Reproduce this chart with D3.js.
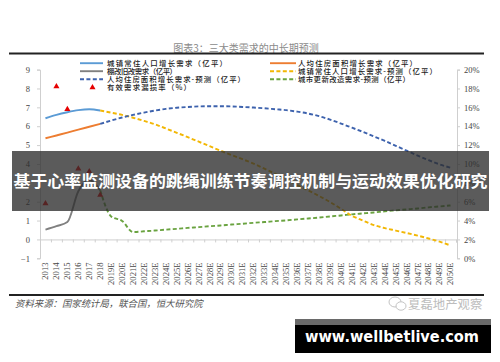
<!DOCTYPE html>
<html>
<head>
<meta charset="utf-8">
<script src="https://d3js.org/d3.v7.min.js"></script>
<style>
  body { margin: 0; background: #fff; }
  svg { display: block; }
</style>
</head>
<body>
<script>
// categories
var years = ['2013','2014','2015','2016','2017','2018','2019E','2020E','2021E','2022E',
  '2023E','2024E','2025E','2026E','2027E','2028E','2029E','2030E','2031E','2032E',
  '2033E','2034E','2035E','2036E','2037E','2038E','2039E','2040E','2041E','2042E',
  '2043E','2044E','2045E','2046E','2047E','2048E','2049E','2050E'];

// history 2013-2018 (亿平)
var urbanPopHist = [6.42, 6.6, 6.74, 6.85, 6.9, 6.83];
var perCapitaHist = [5.36, 5.51, 5.66, 5.82, 5.97, 6.12];
var shantyHist = [0.52, 0.7, 0.92, 2.55, 3.15, 2.6];
// forecast 2018-2050 (亿平)
var perCapitaFcst = [6.12, 6.3, 6.46, 6.6, 6.72, 6.83, 6.92, 6.98, 7.02, 7.05,
  7.06, 7.06, 7.05, 7.02, 6.99, 6.95, 6.9, 6.85, 6.77, 6.67,
  6.53, 6.35, 6.14, 5.92, 5.7, 5.46, 5.22, 4.96, 4.7, 4.44,
  4.2, 3.98, 3.8];
var urbanPopFcst = [6.83, 6.72, 6.6, 6.45, 6.28, 6.1, 5.88, 5.65, 5.42, 5.18,
  4.94, 4.7, 4.47, 4.25, 4.02, 3.75, 3.47, 3.18, 2.88, 2.6,
  2.3, 1.98, 1.62, 1.25, 1.0, 0.76, 0.6, 0.47, 0.34, 0.2,
  0.05, -0.12, -0.32];
var renewalFcst = [2.6, 1.22, 0.98, 0.39, 0.43, 0.47, 0.52, 0.56, 0.61, 0.65,
  0.7, 0.74, 0.79, 0.83, 0.88, 0.92, 0.97, 1.01, 1.06, 1.11,
  1.16, 1.22, 1.27, 1.33, 1.38, 1.43, 1.49, 1.54, 1.59, 1.64,
  1.7, 1.75, 1.8];
// 有效需求漏损率 (%), 2013-2018, right axis
var leakRate = [5.8, 18.2, 15.8, 9.5, 9.2, 6.7];

var leftTicks = [-1, 0, 1, 2, 3, 4, 5, 6, 7, 8, 9];
var rightTicks = [0, 2, 4, 6, 8, 10, 12, 14, 16, 18, 20];

var W = 500, H = 362;
var plot = {left: 40, right: 456, top: 69.6, bottom: 258.3};

var svg = d3.select("body").append("svg")
    .attr("width", W).attr("height", H);

var x = d3.scaleBand().domain(years).range([plot.left, plot.right]).padding(0);
var xc = function(d) { return x(d) + x.bandwidth() / 2; };
var yL = d3.scaleLinear().domain([-1, 9]).range([plot.bottom, plot.top]);
var yR = d3.scaleLinear().domain([0, 20]).range([plot.bottom, plot.top]);

var serif = "'Liberation Serif', 'DejaVu Serif', serif";
var cjk = "'Noto Sans CJK SC', sans-serif";

// title + rules
svg.append("text")
    .attr("x", 246).attr("y", 51.5)
    .attr("text-anchor", "middle")
    .style("font-family", cjk).style("font-size", "10px").style("fill", "#8a8a8a")
    .text("图表3：三大类需求的中长期预测");
svg.append("line").attr("x1", 9).attr("x2", 484).attr("y1", 53.5).attr("y2", 53.5)
    .attr("stroke", "#222").attr("stroke-width", 1.8);
svg.append("line").attr("x1", 9).attr("x2", 484).attr("y1", 295).attr("y2", 295)
    .attr("stroke", "#222").attr("stroke-width", 1.8);

// left axis
var gL = svg.append("g")
    .attr("transform", "translate(" + plot.left + ",0)")
    .call(d3.axisLeft(yL).tickValues(leftTicks).tickSize(3).tickPadding(7)
      .tickFormat(function(d) { return d < 0 ? "\u22121" : d; }));
// right axis
var gR = svg.append("g")
    .attr("transform", "translate(" + (plot.right + 1) + ",0)")
    .call(d3.axisRight(yR).tickValues(rightTicks).tickSize(3).tickPadding(4)
      .tickFormat(function(d) { return d + "%"; }));
[gL, gR].forEach(function(g) {
  g.select(".domain").attr("stroke", "#cfcfcf");
  g.selectAll(".tick line").attr("stroke", "#cfcfcf");
  g.selectAll(".tick text").style("font-family", serif).style("font-size", "8.5px").style("fill", "#444");
});

// x axis at zero with boundary ticks
var xEdge = d3.scaleLinear().domain([0, years.length]).range([plot.left, plot.right]);
var gX = svg.append("g")
    .attr("transform", "translate(0," + yL(0) + ")")
    .call(d3.axisBottom(xEdge).tickValues(d3.range(years.length + 1)).tickSize(3).tickFormat(""));
gX.select(".domain").attr("stroke", "#cfcfcf");
gX.selectAll(".tick line").attr("stroke", "#cfcfcf");

svg.append("g").selectAll("text").data(years).enter().append("text")
    .attr("transform", function(d) { return "translate(" + xc(d) + ",262.5) rotate(-90)"; })
    .attr("dy", "0.33em")
    .attr("text-anchor", "end")
    .style("font-family", serif).style("font-size", "8.6px").style("fill", "#444")
    .text(function(d) { return d; });

// series
var hist = years.slice(0, 6);
var fcst = years.slice(5);
var series = [
  {cat: hist, val: shantyHist, color: "#808080", dash: null},
  {cat: hist, val: perCapitaHist, color: "#ed7d31", dash: null},
  {cat: hist, val: urbanPopHist, color: "#5b9bd5", dash: null},
  {cat: fcst, val: renewalFcst, color: "#6aa340", dash: "4,2.4"},
  {cat: fcst, val: urbanPopFcst, color: "#f2b705", dash: "4,2.4"},
  {cat: fcst, val: perCapitaFcst, color: "#3d62ad", dash: "4,2.4"}
];
var line = d3.line()
    .x(function(d) { return xc(d[0]); })
    .y(function(d) { return yL(d[1]); })
    .curve(d3.curveMonotoneX);
series.forEach(function(s) {
  svg.append("path")
      .datum(s.cat.map(function(c, i) { return [c, s.val[i]]; }))
      .attr("d", line)
      .attr("fill", "none")
      .attr("stroke", s.color)
      .attr("stroke-width", 1.9)
      .attr("stroke-dasharray", s.dash);
});

// triangles (right axis)
var tri = d3.symbol().type(d3.symbolTriangle).size(16);
svg.append("g").selectAll("path").data(hist).enter().append("path")
    .attr("d", tri)
    .attr("transform", function(d, i) { return "translate(" + xc(d) + "," + yR(leakRate[i]) + ")"; })
    .attr("fill", "#e60000");

// legend
var legLeft = [
  {name: "城镇常住人口增长需求（亿平）", color: "#5b9bd5", dash: null, y: 63.2, w: 120},
  {name: "棚改旧改需求（亿平）", color: "#808080", dash: null, y: 71.2, w: 70},
  {name: "人均住房面积增长需求-预测（亿平）", color: "#3d62ad", dash: "4,2.4", y: 79.2, w: 138}
];
var legRight = [
  {name: "人均住房面积增长需求（亿平）", color: "#ed7d31", dash: null, y: 63.2, w: 119},
  {name: "城镇常住人口增长需求-预测（亿平）", color: "#f2b705", dash: "4,2.4", y: 71.2, w: 139},
  {name: "城市更新改造需求-预测（亿平）", color: "#6aa340", dash: "4,2.4", y: 79.2, w: 112}
];
function legText(tx, ty, name, w) {
  svg.append("text").attr("x", tx).attr("y", ty)
      .attr("textLength", w).attr("lengthAdjust", "spacing")
      .style("font-family", cjk).style("font-size", "7.4px").style("font-weight", 500)
      .style("fill", "#222").text(name);
}
function drawLegend(items, x0, x1, tx) {
  items.forEach(function(it) {
    svg.append("line").attr("x1", x0).attr("x2", x1).attr("y1", it.y).attr("y2", it.y)
        .attr("stroke", it.color).attr("stroke-width", 1.9).attr("stroke-dasharray", it.dash);
    legText(tx, it.y + 2.7, it.name, it.w);
  });
}
drawLegend(legLeft, 80, 103, 107);
drawLegend(legRight, 270, 296, 298);
svg.append("path").attr("d", tri).attr("transform", "translate(92.5,87.5)").attr("fill", "#e60000");
legText(107, 90.4, "有效需求漏损率（%）", 84);

// footer
svg.append("text").attr("x", 15).attr("y", 306.5)
    .style("font-family", cjk).style("font-size", "9.4px").style("font-style", "italic")
    .style("fill", "#555").text("资料来源：国家统计局，联合国，恒大研究院");
var wx = svg.append("g").attr("fill", "none").attr("stroke", "#c4c4c4").attr("stroke-width", 1);
wx.append("ellipse").attr("cx", 395).attr("cy", 302).attr("rx", 6).attr("ry", 5);
wx.append("ellipse").attr("cx", 401).attr("cy", 306).attr("rx", 5).attr("ry", 4.2).attr("fill", "#fff");
svg.append("text").attr("x", 408).attr("y", 308.5)
    .style("font-family", cjk).style("font-size", "12.4px").style("fill", "#bdbdbd")
    .text("夏磊地产观察");

// overlay banner
svg.append("rect").attr("x", 12).attr("y", 151).attr("width", 477).attr("height", 60)
    .attr("fill", "rgba(45,45,45,0.78)");
svg.append("text").attr("x", 250.5).attr("y", 187)
    .attr("text-anchor", "middle")
    .attr("textLength", 474).attr("lengthAdjust", "spacingAndGlyphs")
    .style("font-family", cjk).style("font-size", "16.4px").style("font-weight", 700)
    .style("fill", "#fff")
    .text("基于心率监测设备的跳绳训练节奏调控机制与运动效果优化研究");

// url box
svg.append("rect").attr("x", 295).attr("y", 319).attr("width", 196).attr("height", 34).attr("fill", "#000");
svg.append("rect").attr("x", 295).attr("y", 319).attr("width", 196).attr("height", 6).attr("fill", "#6a6a6a");
svg.append("text").attr("x", 392).attr("y", 342)
    .attr("text-anchor", "middle")
    .attr("textLength", 174).attr("lengthAdjust", "spacingAndGlyphs")
    .style("font-family", "'DejaVu Sans', sans-serif").style("font-size", "15px").style("font-weight", 700)
    .style("fill", "#fff")
    .text("www.wellbetlive.com");
</script>
</body>
</html>
